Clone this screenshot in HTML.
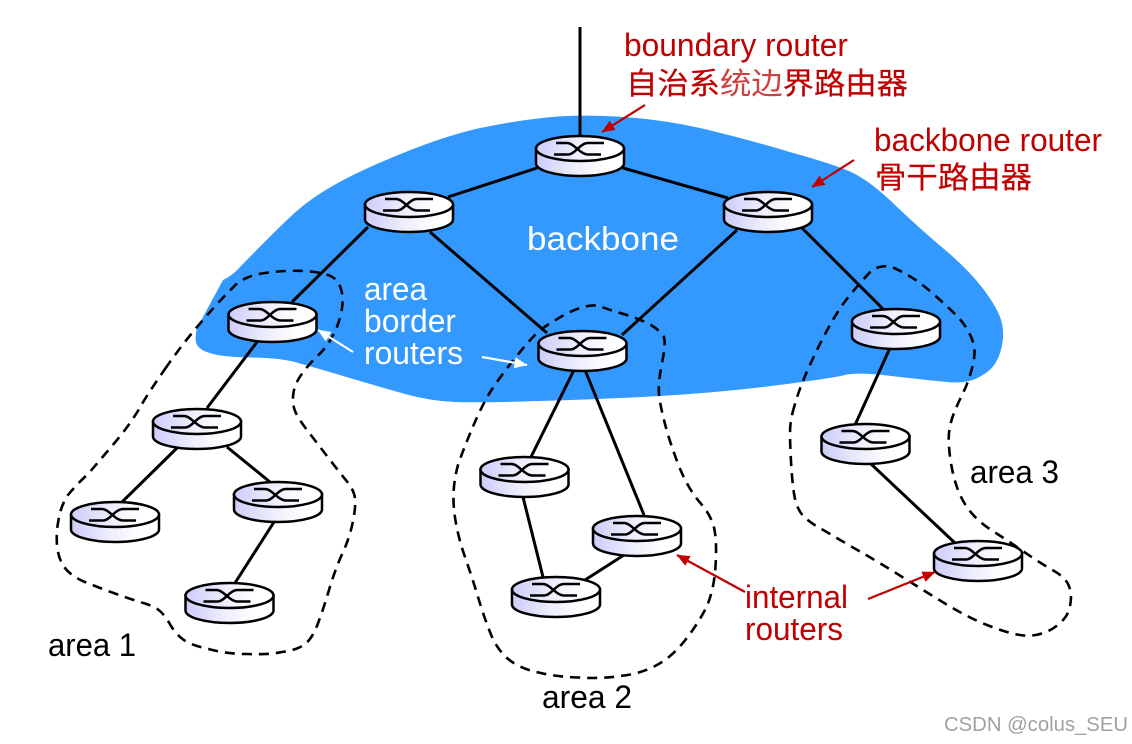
<!DOCTYPE html>
<html><head><meta charset="utf-8"><style>
html,body{margin:0;padding:0;background:#fff}
svg{display:block}
text{font-family:"Liberation Sans","Noto Sans CJK SC",sans-serif;font-size:32px}
.r{fill:#c00000}.w{fill:#fff}.k{fill:#000}
.c{font-size:30px;stroke:#c00000;stroke-width:.2px}
.l{fill:#d04040;stroke:none}
</style></head><body>
<svg width="1132" height="744" viewBox="0 0 1132 744" xmlns="http://www.w3.org/2000/svg">
<defs>
<linearGradient id="g" x1="0" x2="1" y1="0" y2="0"><stop offset="0" stop-color="#ccccfa"/><stop offset=".45" stop-color="#eeeefe"/><stop offset=".8" stop-color="#fff"/></linearGradient>
<g id="rt">
<path d="M-44 0V15A44 12.5 0 0 0 44 15V0Z" fill="url(#g)" stroke="#000" stroke-width="2.5"/>
<ellipse cx="0" cy="0" rx="44" ry="12.5" fill="url(#g)" stroke="#000" stroke-width="2.5"/>
<path d="M-24 -5.5H-13C-6 -5.5 0 6 8 6H21M24 -5.5H8C0 -5.5 -5 6 -12 6H-26" fill="none" stroke="#000" stroke-width="2.5"/>
</g>
<marker id="ar" viewBox="0 0 13 11" refX="12.5" refY="5.5" markerWidth="13" markerHeight="11" markerUnits="userSpaceOnUse" orient="auto"><path d="M0 0L13 5.5L0 11Z" fill="#c00000"/></marker>
<marker id="aw" viewBox="0 0 13 11" refX="12.5" refY="5.5" markerWidth="13" markerHeight="11" markerUnits="userSpaceOnUse" orient="auto"><path d="M0 0L13 5.5L0 11Z" fill="#fff"/></marker>
</defs>
<path fill="#3399ff" d="M546.5 117.5Q580 114 623.5 117Q667 120 708.5 130Q750 140 791.5 152.5Q833 164 850 171.5Q869 180 894 204Q919 228 944 249Q969 270 984 290Q999 310 1002 323.5Q1005 337 1000 353Q995 369 981 376Q967 385 942 381.5Q917 379 887 375.5Q857 372 845 375Q833 378 783 384.5Q733 391 683 394.5Q633 398 556.5 400.5Q480 403 455 402Q430 401 405 394Q380 387 346.5 377Q313 367 296.5 362.5Q280 358 251.5 357.5Q223 357 211.5 353.5Q198 350 196 342.5Q195 335 197 328L223 280Q232 276 240 267Q278 228 294.5 213Q311 198 336 184Q361 170 403 153Q445 136 478 128.5Q513 121 546.5 117.5Z"/>
<g stroke="#000" stroke-width="3" fill="none">
<path d="M580 27V140"/>
<path d="M537 168L448 197M623 168L728 198M368 227L292 302M430 232L547 333M737 230L622 335M802 228L883 309"/>
<path d="M257 342L207 408M177 448L122 502M227 447L270 482M274 522L235 583"/>
<path d="M575 368L531 457M585 370L644 515M523 497L543 577M624 555L585 580"/>
<path d="M890 348L855 425M871 464L955 543"/>
</g>
<use href="#rt" x="580" y="148.5"/><use href="#rt" x="409" y="204.5"/><use href="#rt" x="768" y="204.5"/>
<use href="#rt" x="272.5" y="314.5"/><use href="#rt" x="582.5" y="343.5"/><use href="#rt" x="896" y="321.5"/>
<use href="#rt" x="197" y="421.5"/><use href="#rt" x="278" y="494.5"/><use href="#rt" x="115" y="514.5"/><use href="#rt" x="229.5" y="595.5"/>
<use href="#rt" x="524.5" y="469.5"/><use href="#rt" x="637" y="528.5"/><use href="#rt" x="556" y="589.5"/>
<use href="#rt" x="865.5" y="436.5"/><use href="#rt" x="978" y="553.5"/>
<g fill="none" stroke="#000" stroke-width="2.6" stroke-dasharray="10 7">
<path d="M165 369Q183 343 203 320Q223 297 233 287.5Q243 276 265 273Q287 270 303.5 271Q322 272 330.5 276Q339 280 341.5 291Q344 300 341 313.5Q338 327 332 337Q327 347 318.5 355Q310 363 302.5 373Q295 383 293.5 392.5Q292 402 294.5 409.5Q297 417 307 430Q317 443 328.5 458Q340 473 347 481.5Q354 490 355 498.5Q356 507 352.5 523.5Q349 540 341 556.5Q334 573 329 590Q324 607 318.5 622Q312 640 303.5 645Q297 650 282 652Q267 655 247 654Q227 654 208.5 649Q190 645 182.5 639Q176 634 171 626Q166 617 161 612Q156 607 145 603.5Q133 600 115 593.5Q97 587 82.5 581Q68 574 63 565Q58 557 57 545Q56 533 58.5 520Q61 505 68 495Q76 485 88.5 473.5Q100 460 111.5 446.5Q123 433 130 423Q137 413 142 404Q147 395 165 369Z"/>
<path d="M473 426.5Q483 403 491.5 390Q500 377 513.5 360Q527 343 535 335Q543 327 556.5 319.5Q570 311 581.5 307.5Q593 304 600 306.5Q607 309 623.5 314Q640 319 651 325Q662 332 664 337.5Q666 343 662 363Q658 383 659 394Q660 405 665 424Q670 443 678.5 465Q687 487 699.5 502Q712 516 714.5 530Q717 543 715.5 566.5Q714 590 706.5 607Q698 624 684.5 641Q671 658 655 666Q640 674 620 676Q600 679 578.5 677.5Q557 677 538.5 672.5Q518 668 507 658Q496 648 490 632Q484 617 478 597Q472 577 465.5 558.5Q459 540 456 523.5Q453 507 453.5 493.5Q454 480 458 465Q463 450 473 426.5Z"/>
<path d="M792.5 413Q795 403 799 391.5Q803 380 811.5 361.5Q820 343 830 325Q840 307 850 295Q860 283 866.5 276Q873 268 880 267Q887 265 894 268Q901 271 911 277Q921 283 934.5 295Q948 307 956 315Q964 323 969 332.5Q974 342 974.5 349.5Q975 357 971.5 370Q968 383 963 393Q958 403 954 413Q950 423 949 433Q948 443 950.5 460Q953 477 958 490Q963 503 971.5 513Q980 523 993.5 531.5Q1007 540 1023.5 551.5Q1040 563 1052.5 570Q1065 577 1068.5 585Q1072 593 1070.5 603Q1069 615 1061 622Q1053 630 1043 633Q1033 637 1020 635Q1007 633 987 625Q967 617 945 603.5Q923 590 901.5 576.5Q880 563 860 551.5Q840 540 825 531Q808 522 802 514.5Q796 507 794 493.5Q792 480 791 461.5Q790 443 790 433Q790 423 792.5 413Z"/>
</g>
<g stroke-width="2.2" fill="none">
<path d="M645 105L602 132" stroke="#c00000" marker-end="url(#ar)"/>
<path d="M854 160L812 187" stroke="#c00000" marker-end="url(#ar)"/>
<path d="M745 592L677 555" stroke="#c00000" marker-end="url(#ar)"/>
<path d="M868 599L935 572" stroke="#c00000" marker-end="url(#ar)"/>
<path d="M353 352L318 330" stroke="#fff" marker-end="url(#aw)"/>
<path d="M482 357L527 365" stroke="#fff" marker-end="url(#aw)"/>
</g>
<text x="624" y="56" class="r" textLength="224" lengthAdjust="spacingAndGlyphs">boundary router</text>
<text x="626" y="94" class="r c" textLength="282" lengthAdjust="spacingAndGlyphs">自治系<tspan class="l">统边</tspan>界路由器</text>
<text x="874" y="151" class="r" textLength="228" lengthAdjust="spacingAndGlyphs">backbone router</text>
<text x="875" y="188" class="r c" textLength="157" lengthAdjust="spacingAndGlyphs">骨干路由器</text>
<text x="527" y="250" class="w" style="font-size:33px" textLength="152" lengthAdjust="spacingAndGlyphs">backbone</text>
<text x="364" y="300" class="w" textLength="63" lengthAdjust="spacingAndGlyphs">area</text>
<text x="364" y="332" class="w" textLength="92" lengthAdjust="spacingAndGlyphs">border</text>
<text x="364" y="364" class="w" textLength="99" lengthAdjust="spacingAndGlyphs">routers</text>
<text x="745" y="608" class="r" textLength="103" lengthAdjust="spacingAndGlyphs">internal</text>
<text x="745" y="640" class="r" textLength="98" lengthAdjust="spacingAndGlyphs">routers</text>
<text x="48" y="656" class="k" textLength="88" lengthAdjust="spacingAndGlyphs">area 1</text>
<text x="542" y="708" class="k" textLength="90" lengthAdjust="spacingAndGlyphs">area 2</text>
<text x="970" y="483" class="k" textLength="89" lengthAdjust="spacingAndGlyphs">area 3</text>
<text x="944" y="731" style="font-size:20px" fill="#a0a0a0" textLength="184" lengthAdjust="spacingAndGlyphs">CSDN @colus_SEU</text>
</svg>
</body></html>
